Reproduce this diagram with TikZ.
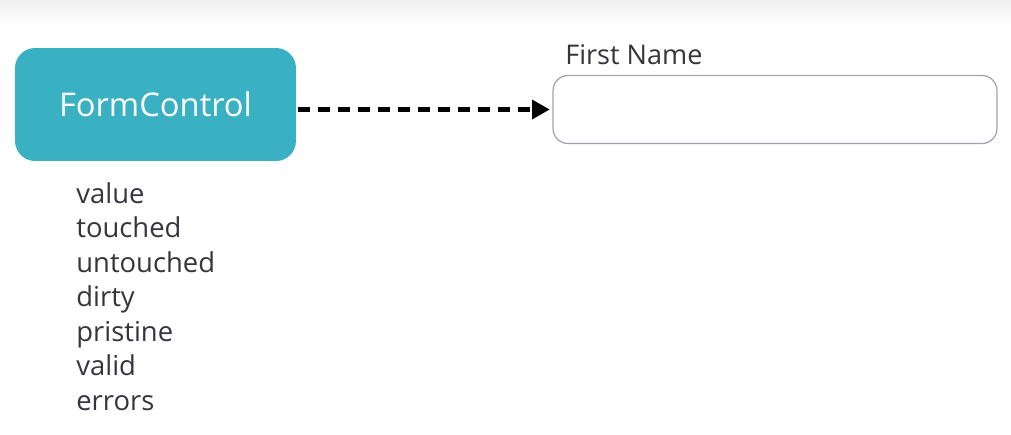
\documentclass[tikz,border=0pt]{standalone}
\usepackage{fontspec}
\setmainfont{Open Sans}
\usetikzlibrary{arrows.meta}

\definecolor{tealbox}{HTML}{3AB0C3}
\definecolor{fieldgray}{HTML}{A2A2AA}
\definecolor{textgray}{HTML}{35353C}

\begin{document}
\begin{tikzpicture}[x=0.02cm,y=-0.02cm]
    \tikzset{ctrlbox/.style={rectangle,rounded corners=0.4cm,fill=tealbox,text=white,
                 minimum width=5.62cm,minimum height=2.26cm,font=\fontsize{18.6}{22}\selectfont},
             fieldbox/.style={rectangle,rounded corners=0.3cm,draw=fieldgray,line width=0.7pt,
                 minimum width=8.88cm,minimum height=1.36cm},
             plain/.style={text=textgray,inner sep=0pt,font=\fontsize{15.4}{19.4}\selectfont}};
    \useasboundingbox (0,0) rectangle (1011,434);
    \shade[top color=black!6,bottom color=white] (0,0) rectangle (1011,26);
	\node (fc) at (155.5,104.5) [ctrlbox]{FormControl};
	\node (fn) at (775,109.5) [fieldbox]{};
	\node (fnlabel) at (565,64) [plain,anchor=base west]{First Name};
	\node (props) at (76,182) [plain,anchor=north west,align=left,
	    font=\fontsize{15.6}{19.65}\selectfont]{value\\touched\\untouched\\dirty\\pristine\\valid\\errors};
	\draw[line width=2.8pt,dash pattern=on 6.8pt off 4.6pt,shorten <=1pt,shorten >=1.5pt,
	    -{Triangle[length=10pt,width=10.5pt]}] (fc.east |- fn.west) -- (fn.west);
	\end{tikzpicture}
\end{document}
